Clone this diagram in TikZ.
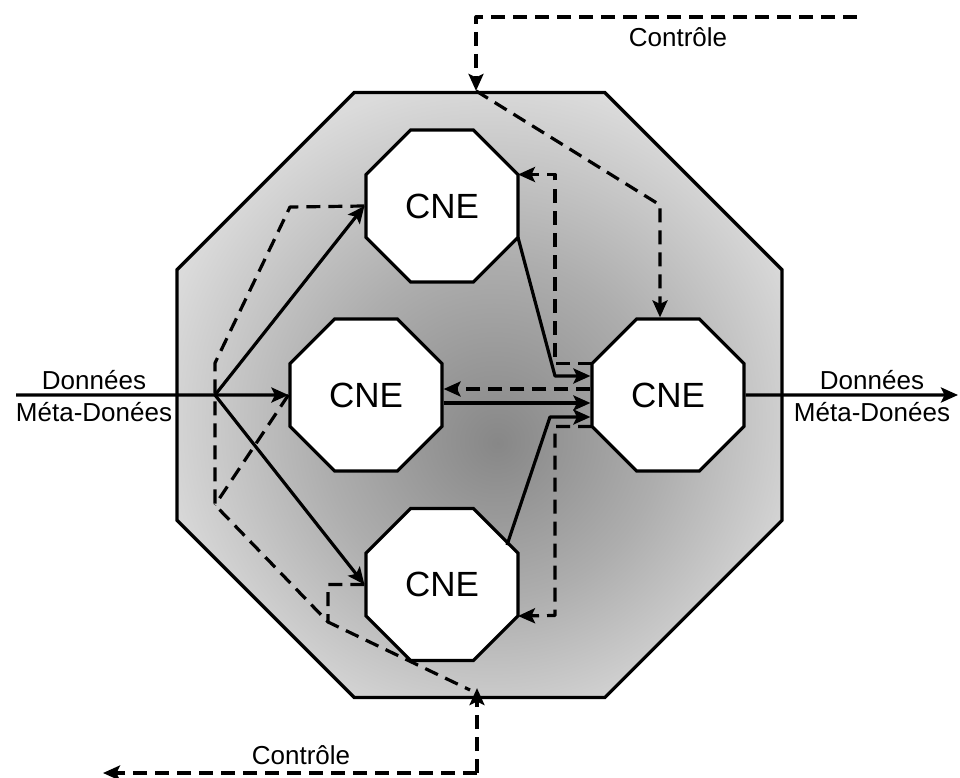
\documentclass[tikz,border=0pt]{standalone}
\usepackage{fontspec}
\setmainfont{Liberation Sans}
\usetikzlibrary{shapes.geometric,arrows.meta,calc}
\definecolor{sdark}{gray}{0.53}
\definecolor{smid}{gray}{0.68}
\definecolor{slight}{gray}{0.86}
\pgfdeclareradialshading{frameshade}{\pgfpoint{1.5bp}{-4bp}}{color(0bp)=(sdark); color(14bp)=(smid); color(28bp)=(slight); color(50bp)=(slight)}
\begin{document}
\begin{tikzpicture}[x=1pt,y=-1pt,
  octbox/.style={draw, line width=3.2pt, fill=white, regular polygon, regular polygon sides=8,
    minimum size=164.5pt, inner sep=0pt, font=\fontsize{35}{40}\selectfont},
  framebox/.style={draw, line width=3.2pt, regular polygon, regular polygon sides=8,
    minimum size=654.8pt, inner sep=0pt, shading=frameshade},
  lbl/.style={inner sep=0pt, font=\fontsize{26}{30}\selectfont},
  wire/.style={line width=3.2pt, line join=round},
  ctl/.style={wire, dash pattern=on 14pt off 8pt},
  tip/.style={-{Stealth[length=17pt,width=15pt,inset=3.5pt]}}]
\useasboundingbox (0,0) rectangle (960,778);

% frame and CNE nodes
\node[framebox] (frame) at (479.5,395) {};
\node[octbox] (t) at (442,206) {CNE};
\node[octbox] (m) at (366,395) {CNE};
\node[octbox] (r) at (668,395) {CNE};
\node[octbox] (b) at (442,584.5) {CNE};

% labels
\node[lbl, anchor=base] (dinA) at (94,389) {Données};
\node[lbl, anchor=base] (dinB) at (94,421) {Méta-Donées};
\node[lbl, anchor=base] (doutA) at (872,389) {Données};
\node[lbl, anchor=base] (doutB) at (872,421) {Méta-Donées};
\node[lbl, anchor=base] (cin) at (678,47) {Contrôle};
\node[lbl, anchor=base] (cout) at (301,764) {Contrôle};

% free ends and bends
\coordinate (din) at (16,395);
\coordinate (split) at (215,395);
\coordinate (dout) at (958,395);
\coordinate (cinA) at (857,17);
\coordinate (cinB) at (476,17);
\coordinate (cbend) at (660,205);
\coordinate (coutA) at (103,773);
\coordinate (coutB) at (477,773);

% data flow
\draw[wire,tip] (din) -- (m.west);
\draw[wire,tip] (split) -- (t.west);
\draw[wire,tip] (split) -- (b.west);
\draw[wire,tip] (r.east) -- (dout);
\draw[wire,tip] ($(t.center)+(76,31.5)$) -- (555,376) -- ($(r.west)+(0,-19)$);
\draw[wire,tip] ($(m.east)+(0,8)$) -- ($(r.west)+(0,8)$);
\draw[wire,tip] ($(b.center)+(65,-39.5)$) -- (550,417) -- ($(r.west)+(0,22)$);

% control flow
\draw[ctl,tip] (cinA) -- (cinB) -- (cinB |- frame.north);
\draw[ctl,tip] (cinB |- frame.north) -- (cbend) -- (cbend |- r.north);
\draw[ctl,tip] ($(r.west)+(0,-6)$) -- ($(m.east)+(0,-6)$);
\draw[ctl,tip] ($(r.center)+(-76,-31.5)$) -- (555,363.5) -- (555,174.5) -- ($(t.center)+(76,-31.5)$);
\draw[ctl,tip] ($(r.center)+(-76,31.5)$) -- (555,426.5) -- (555,615.5) -- ($(b.center)+(76,31.5)$);
\draw[ctl] (t.west) -- (290,207) -- (215,363) -- (215,505) -- (328,622) -- (470,690);
\draw[ctl] (m.west) -- (215,505);
\draw[ctl] (b.west) -- (328,584.5) -- (328,622);
\draw[ctl,tip] (coutB) -- ($(coutB |- frame.south)+(0,-11)$);
\draw[ctl,tip] (coutB) -- (coutA);
\end{tikzpicture}
\end{document}
